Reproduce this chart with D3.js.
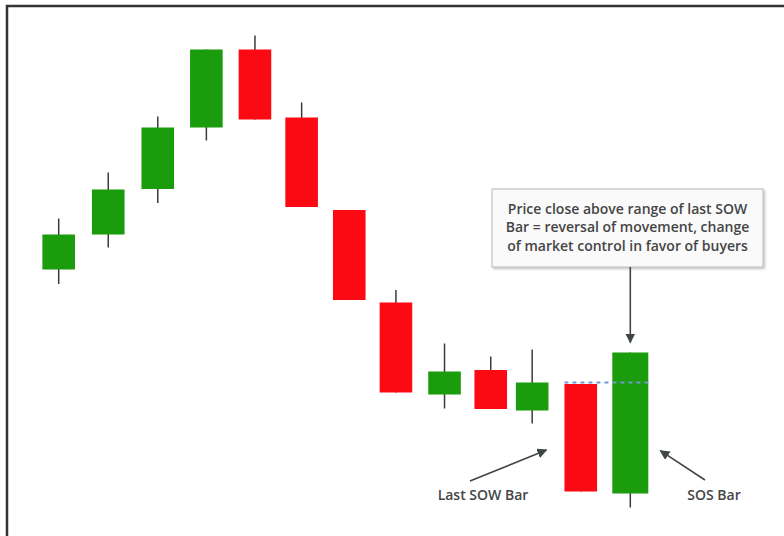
<!DOCTYPE html>
<html>
<head>
<meta charset="utf-8">
<script src="https://cdn.jsdelivr.net/npm/d3@7"></script>
<style>
  html, body { margin: 0; padding: 0; background: #fff; }
  svg { display: block; }
</style>
</head>
<body>
<svg id="chart" width="784" height="536"></svg>
<script>
// ---- data ----
const sessionVals = [0, 1.04, 2.08, 3.1, 4.12, 5.1, 6.1, 7.08, 8.1, 9.07, 9.94, 10.96, 12];
const openVals  = [50.1, 57.1, 66.2, 78.5, 94.1, 80.5, 62.0, 43.5, 25.1, 30.0, 21.9, 27.2, 5.3];
const closeVals = [57.1, 66.1, 78.5, 94.1, 80.1, 62.6, 44.0, 25.5, 29.7, 22.2, 27.5, 5.7, 33.5];
const highVals  = [60.3, 69.5, 80.7, 94.1, 96.9, 83.5, 62.0, 46.0, 35.3, 32.7, 34.1, 27.2, 33.5];
const lowVals   = [47.2, 54.5, 63.4, 75.9, 80.1, 62.6, 44.0, 25.5, 22.3, 22.2, 19.3, 5.7, 2.5];
const sowBarIndex = 11;
const sosBarIndex = 12;
const sowHighLevel = 27.5;
const boxLines = [
  "Price close above range of last SOW",
  "Bar = reversal of movement, change",
  "of market control in favor of buyers"
];
const sowLabel = "Last SOW Bar";
const sosLabel = "SOS Bar";

const candles = sessionVals.map((t, i) => ({
  i, t, open: openVals[i], close: closeVals[i], high: highVals[i], low: lowVals[i]
}));

// ---- setup ----
const svg = d3.select("#chart");
const x = d3.scaleLinear().domain([0, 12]).range([58.7, 630.3]);
const y = d3.scaleLinear().domain([0, 100]).range([520, 20]);
const GREEN = "#1a9c0c";
const RED = "#fb0a14";
const WICK = "#3a3a3a";
const TEXT = "#454545";
const FONT = "'Open Sans', sans-serif";
const bodyW = i => (i === sosBarIndex ? 36 : 32.6);
const cx = i => x(sessionVals[i]);

// frame (left + top)
svg.append("path")
  .attr("d", "M7,536 L7,6 L784,6")
  .attr("fill", "none")
  .attr("stroke", "#333")
  .attr("stroke-width", 2.5);

// defs: arrow marker, shadow
const defs = svg.append("defs");
defs.append("marker")
  .attr("id", "arrow")
  .attr("viewBox", "0 0 10 10")
  .attr("refX", 9).attr("refY", 5)
  .attr("markerWidth", 10).attr("markerHeight", 10)
  .attr("markerUnits", "userSpaceOnUse")
  .attr("orient", "auto")
  .append("path")
  .attr("d", "M0,0 L10,5 L0,10 z")
  .attr("fill", "#3f4743");
const filt = defs.append("filter").attr("id", "shadow")
  .attr("x", "-5%").attr("y", "-10%").attr("width", "115%").attr("height", "130%");
filt.append("feDropShadow").attr("dx", 1.5).attr("dy", 1.5).attr("stdDeviation", 1.2)
  .attr("flood-color", "#000").attr("flood-opacity", 0.25);

// wicks
const g = svg.append("g");
g.selectAll("line.wick")
  .data(candles)
  .join("line")
  .attr("class", "wick")
  .attr("x1", d => x(d.t)).attr("x2", d => x(d.t))
  .attr("y1", d => y(d.high)).attr("y2", d => y(d.low))
  .attr("stroke", WICK)
  .attr("stroke-width", 1.5);

// bodies
g.selectAll("rect.body")
  .data(candles)
  .join("rect")
  .attr("class", "body")
  .attr("x", d => x(d.t) - bodyW(d.i) / 2)
  .attr("width", d => bodyW(d.i))
  .attr("y", d => y(Math.max(d.open, d.close)))
  .attr("height", d => Math.abs(y(d.open) - y(d.close)))
  .attr("fill", d => d.close >= d.open ? GREEN : RED);

// dashed level line
svg.append("line")
  .attr("x1", cx(sowBarIndex) - bodyW(sowBarIndex) / 2)
  .attr("x2", cx(sosBarIndex) + bodyW(sosBarIndex) / 2)
  .attr("y1", y(sowHighLevel)).attr("y2", y(sowHighLevel))
  .attr("stroke", "#7198d2")
  .attr("stroke-width", 2)
  .attr("stroke-dasharray", "4,4");

// annotation box
const boxX = 492, boxY = 189, boxW = 271, boxH = 78;
svg.append("rect")
  .attr("x", boxX).attr("y", boxY).attr("width", boxW).attr("height", boxH)
  .attr("fill", "#fafafa")
  .attr("stroke", "#b8b8b8")
  .attr("stroke-width", 1)
  .attr("filter", "url(#shadow)");
svg.append("g")
  .selectAll("text")
  .data(boxLines)
  .join("text")
  .attr("x", boxX + boxW / 2)
  .attr("y", (d, i) => 213.5 + i * 18.8)
  .attr("text-anchor", "middle")
  .attr("font-family", FONT)
  .attr("font-weight", 600)
  .attr("font-size", 14)
  .attr("fill", TEXT)
  .text(d => d);

// arrow from box to SOS bar
const sos = candles[sosBarIndex];
svg.append("line")
  .attr("x1", cx(sosBarIndex)).attr("x2", cx(sosBarIndex))
  .attr("y1", boxY + boxH).attr("y2", y(sos.high) - 10)
  .attr("stroke", "#444").attr("stroke-width", 1.6)
  .attr("marker-end", "url(#arrow)");

// arrows to bottom labels
svg.append("line")
  .attr("x1", 470).attr("y1", 481)
  .attr("x2", cx(sowBarIndex) - bodyW(sowBarIndex) / 2 - 18).attr("y2", 450)
  .attr("stroke", "#444").attr("stroke-width", 1.6)
  .attr("marker-end", "url(#arrow)");
svg.append("line")
  .attr("x1", 705).attr("y1", 480)
  .attr("x2", cx(sosBarIndex) + bodyW(sosBarIndex) / 2 + 12).attr("y2", 450.7)
  .attr("stroke", "#444").attr("stroke-width", 1.6)
  .attr("marker-end", "url(#arrow)");

svg.append("text")
  .attr("x", 483).attr("y", 500)
  .attr("text-anchor", "middle")
  .attr("font-family", FONT)
  .attr("font-weight", 600)
  .attr("font-size", 14)
  .attr("fill", TEXT)
  .text(sowLabel);
svg.append("text")
  .attr("x", 714).attr("y", 500)
  .attr("text-anchor", "middle")
  .attr("font-family", FONT)
  .attr("font-weight", 600)
  .attr("font-size", 14)
  .attr("fill", TEXT)
  .text(sosLabel);
</script>
</body>
</html>
